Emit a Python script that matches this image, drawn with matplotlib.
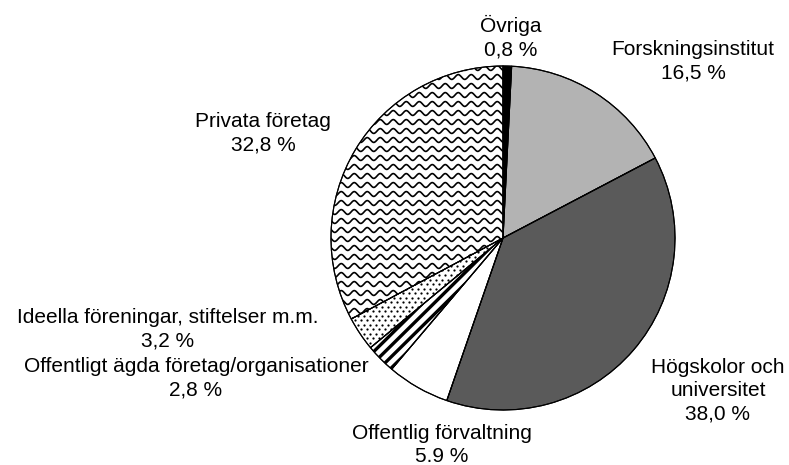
import numpy as np
import matplotlib
matplotlib.use("Agg")
import matplotlib.pyplot as plt
from matplotlib.patches import Wedge

categories = ["Övriga", "Forskningsinstitut", "Högskolor och\nuniversitet",
              "Offentlig förvaltning", "Offentligt ägda företag/organisationer",
              "Ideella föreningar, stiftelser m.m.", "Privata företag"]
values = [0.8, 16.5, 38.0, 5.9, 2.8, 3.2, 32.8]
value_labels = ["0,8 %", "16,5 %", "38,0 %", "5.9 %", "2,8 %", "3,2 %", "32,8 %"]

plt.rcParams['font.family'] = ['Liberation Sans', 'DejaVu Sans']

W, H = 789, 465
fig = plt.figure(figsize=(W / 100, H / 100), dpi=100)
ax = fig.add_axes([0, 0, 1, 1])

cx, cy, R = 503, H - 238, 172
fills = ["black", "#b3b3b3", "#5a5a5a", "white", "white", "white", "white"]
wedges, _ = ax.pie(values, startangle=90, counterclock=False, colors=fills,
                   center=(cx, cy), radius=R,
                   wedgeprops=dict(edgecolor="black", linewidth=0.8))
ax.set_xlim(0, W)
ax.set_ylim(0, H)
ax.set_aspect("equal")
ax.axis("off")

# pattern: stripes for "Offentligt ägda"
w = wedges[4]
mid = np.deg2rad((w.theta1 + w.theta2) / 2)
d = np.array([np.cos(mid), np.sin(mid)])
p = np.array([-d[1], d[0]])
for k in np.arange(-42, 43, 8):
    base = np.array([cx, cy]) + p * k
    pts = np.array([base - d * 10, base + d * 200])
    ln, = ax.plot(pts[:, 0], pts[:, 1], color="black", lw=2.4, solid_capstyle="butt", zorder=3)
    ln.set_clip_path(w)

# pattern: dots for "Ideella"
w = wedges[5]
xs, ys = [], []
for j, yy in enumerate(np.arange(cy - R, cy + R, 4.5)):
    off = 3 if j % 2 else 0
    for xx in np.arange(cx - R + off, cx + R, 6):
        xs.append(xx); ys.append(yy)
sc = ax.scatter(xs, ys, s=2.6, color="black", linewidths=0, zorder=3)
sc.set_clip_path(w)

# pattern: waves for "Privata företag"
w = wedges[6]
xx = np.arange(cx - R - 10, cx + R + 10, 0.5)
for yy in np.arange(cy - R, cy + R + 10, 9):
    ln, = ax.plot(xx, yy + 2.4 * np.sin(2 * np.pi * xx / 13), color="black", lw=1.2, zorder=3)
    ln.set_clip_path(w)

for wd in wedges:
    wd.set_zorder(2)
    ax.add_patch(Wedge(wd.center, wd.r, wd.theta1, wd.theta2,
                       facecolor="none", edgecolor="black", lw=0.8, zorder=4))

# label positions (pixel coords of first baseline, center x)
label_pos = [(511, 32), (693, 55), (718, 373), (442, 439), (196, 372), (168, 323), (263, 127)]
fs = 15
lh = 23.2
for cat, vl, (lx, ly) in zip(categories, value_labels, label_pos):
    lines = cat.split("\n") + [vl]
    for i, t in enumerate(lines):
        ax.text(lx, H - (ly + i * lh), t, ha="center", va="baseline", fontsize=fs, color="black")

fig.savefig("out.png", dpi=100)
